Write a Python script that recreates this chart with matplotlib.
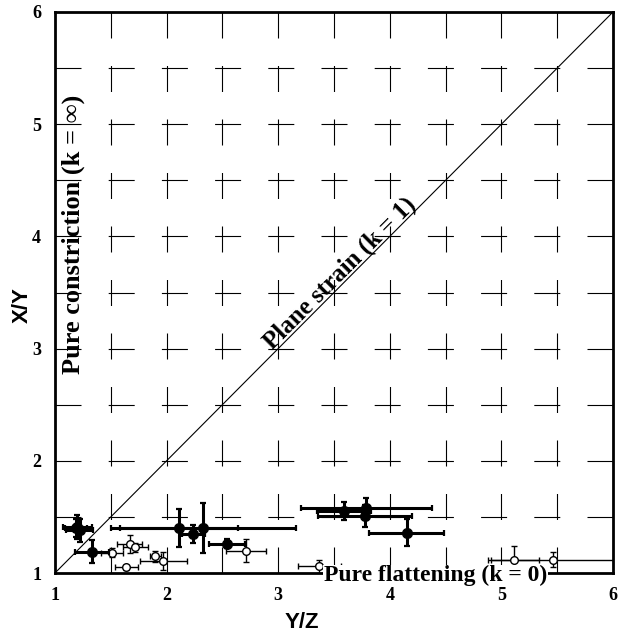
import matplotlib
matplotlib.use("Agg")
import matplotlib.pyplot as plt
import numpy as np

plt.rcParams["lines.scale_dashes"] = False

SERIF = ["Liberation Serif", "DejaVu Serif"]
SANS = ["Liberation Sans", "DejaVu Sans"]

# filled symbols: Y/Z, X/Y, errors
fill_x    = [1.20, 1.22, 1.19, 1.33, 2.11, 2.33, 2.24, 2.54, 3.59, 3.79, 3.78, 4.15]
fill_y    = [1.41, 1.38, 1.40, 1.19, 1.40, 1.40, 1.35, 1.26, 1.55, 1.58, 1.51, 1.36]
fill_xerr = [0.13, 0.12, 0.10, 0.15, 0.53, 0.83, 0.10, 0.16, 0.24, 0.59, 0.42, 0.34]
fill_yerr = [0.11, 0.10, 0.08, 0.10, 0.17, 0.22, 0.08, 0.04, 0.08, 0.09, 0.10, 0.12]

# open symbols
open_x    = [1.51, 1.67, 1.72, 1.64, 1.90, 1.97, 2.71, 3.37, 5.11, 5.46]
open_y    = [1.18, 1.26, 1.23, 1.05, 1.15, 1.11, 1.20, 1.06, 1.12, 1.12]
open_xerr = [0.10, 0.11, 0.11, 0.10, 0.05, 0.21, 0.18, 0.19, 0.23, 0.55]
open_yerr = [0.04, 0.08, 0.04, 0.02, 0.05, 0.08, 0.10, 0.06, 0.12, 0.07]

ticks = [1, 2, 3, 4, 5, 6]
grid_vals = [1.5, 2, 2.5, 3, 3.5, 4, 4.5, 5, 5.5]

fig = plt.figure(figsize=(6.28, 6.34), dpi=100)
ax = fig.add_axes([55 / 628, 61 / 634, 558 / 628, 561 / 634])
ax.set_xlim(1, 6)
ax.set_ylim(1, 6)

# dashed grid: 11 dashes of 26 px per line, gaps fill the rest
bb = ax.get_window_extent()
px2pt = 72 / fig.dpi
on = 26
gap_v = (bb.height - 11 * on) / 10
gap_h = (bb.width - 11 * on) / 10
for g in grid_vals:
    ax.axvline(g, ymin=1, ymax=0, color="black", lw=0.8,
               dashes=(on * px2pt, gap_v * px2pt), zorder=1)
    ax.axhline(g, color="black", lw=0.8,
               dashes=(on * px2pt, gap_h * px2pt), zorder=1)

ax.plot([1, 6], [1, 6], color="black", lw=0.8, zorder=2)

ax.errorbar(fill_x, fill_y, xerr=fill_xerr, yerr=fill_yerr, fmt="o",
            ms=7, mfc="black", mec="black", ecolor="black", elinewidth=2.2,
            capsize=2.5, capthick=1.6, zorder=4)
ax.errorbar(open_x, open_y, xerr=open_xerr, yerr=open_yerr, fmt="o",
            ms=5.5, mfc="white", mec="black", mew=1.0, ecolor="black",
            elinewidth=1.0, capsize=2.2, capthick=1.0, zorder=3)

ax.set_xticks(ticks)
ax.set_yticks(ticks)
ax.tick_params(length=0, pad=10)
for lab in ax.get_xticklabels() + ax.get_yticklabels():
    lab.set_family(SERIF)
    lab.set_fontweight("bold")
    lab.set_fontsize(13)
for sp in ax.spines.values():
    sp.set_linewidth(2.0)

ax.set_xlabel("Y/Z", family=SANS, fontweight="bold", fontsize=16, va="center")
ax.set_ylabel("X/Y", family=SANS, fontweight="bold", fontsize=16, va="center")
ax.xaxis.set_label_coords((302 - 55) / 558, -(622 - 573) / 561)
ax.yaxis.set_label_coords(-(55 - 22) / 558, (573 - 305) / 561)

ax.text(3.55, 3.67, "Plane strain (k = 1)", rotation=45, rotation_mode="anchor",
        ha="center", va="center", family=SERIF, fontweight="bold", fontsize=18,
        zorder=5)
ax.text(1.16, 4.02, "Pure constriction (k = \u221e)", rotation=90,
        ha="center", va="center", family=SERIF, fontweight="bold", fontsize=19,
        zorder=5)
ax.text(4.41, 0.975, "Pure flattening (k = 0)", ha="center", va="center",
        family=SERIF, fontweight="bold", fontsize=17, clip_on=False, zorder=6,
        bbox=dict(facecolor="white", edgecolor="none", pad=0.5))

fig.savefig("out.png", dpi=100)
